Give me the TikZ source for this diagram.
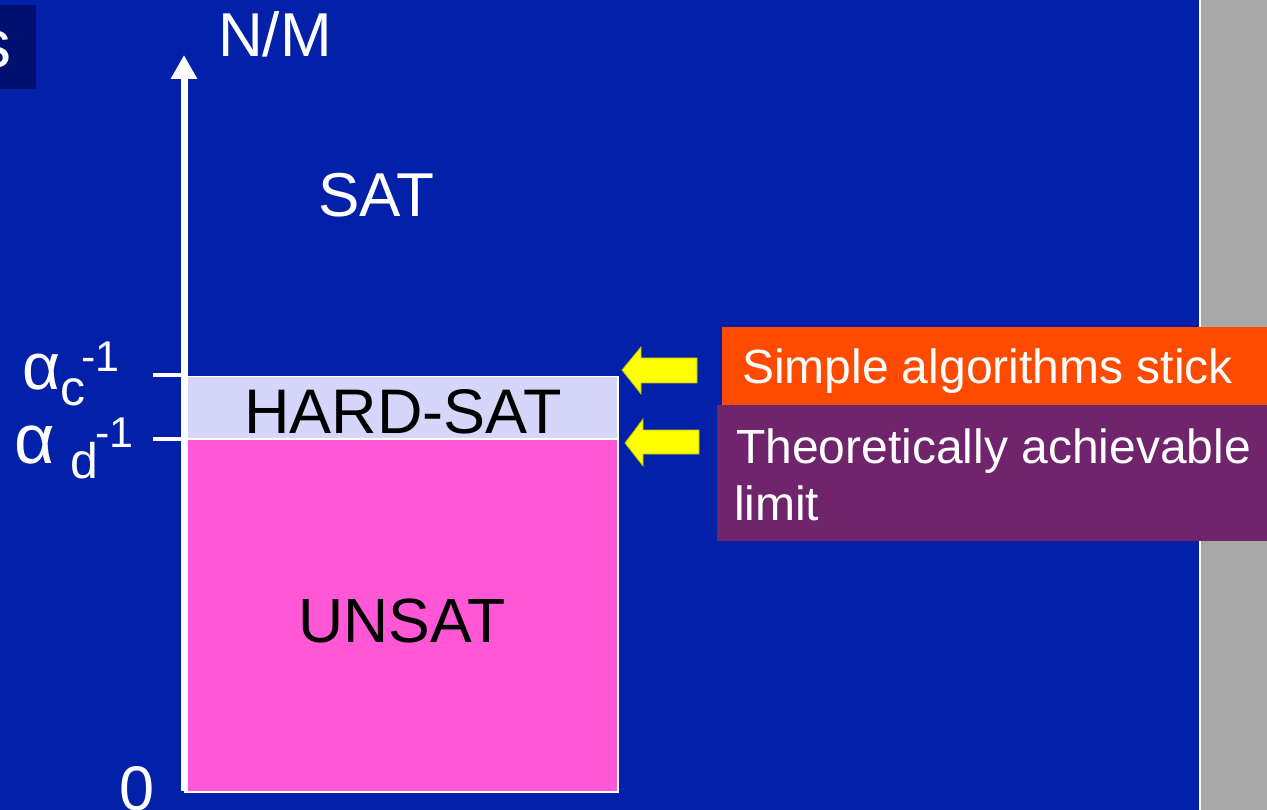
\documentclass[tikz,border=0pt]{standalone}
\usepackage{fontspec}
\setmainfont{Liberation Sans}
\usetikzlibrary{arrows.meta}
\definecolor{bgblue}{RGB}{3,32,168}
\definecolor{tabblue}{RGB}{0,16,112}
\definecolor{panelgray}{RGB}{168,168,168}
\definecolor{hardfill}{RGB}{214,214,250}
\definecolor{unsatfill}{RGB}{255,87,214}
\definecolor{stickfill}{RGB}{255,75,0}
\definecolor{limitfill}{RGB}{112,36,108}
\definecolor{arrowyellow}{RGB}{255,255,0}
\definecolor{arrowedge}{RGB}{190,190,0}
\newcommand{\px}[1]{\fontsize{#1}{#1}\selectfont}
\begin{document}
\begin{tikzpicture}[x=1pt,y=-1pt,
  txt/.style={inner sep=0pt, outer sep=0pt, text=white},
  region/.style={draw=white, line width=1.5pt, inner sep=0pt, anchor=north west},
  notebox/.style={inner sep=0pt, anchor=north west},
  tick/.style={draw=white, line width=4pt},
  axisline/.style={draw=white, line width=7pt, -{Triangle[width=25pt,length=24pt]}},
  pointer/.style={fill=arrowyellow, draw=arrowedge, line width=0.8pt, line join=miter}]
\useasboundingbox (0,0) rectangle (1267,810);
% background and side panel
\fill[bgblue] (0,0) rectangle (1267,810);
\fill[panelgray] (1201,0) rectangle (1267,810);
\draw[white, line width=2pt] (1200,0) -- (1200,810);
% title tab in the corner
\begin{scope}
  \clip (0,5) rectangle (36,89);
  \fill[tabblue] (0,5) rectangle (36,89);
  \node[txt, anchor=base east, font=\px{68}] (tab) at (12,68) {s};
\end{scope}
% phase regions
\node[region, fill=hardfill, minimum width=433pt, minimum height=63pt] (hard) at (184,376) {};
\node[region, fill=unsatfill, minimum width=433pt, minimum height=353pt] (unsat) at (184,438) {};
% vertical axis
\coordinate (origin) at (184,791);
\coordinate (top) at (184,55);
\draw[axisline] (origin) -- (top);
\node[txt, anchor=base west, font=\px{62}] (axislabel) at (218,57) {N/M};
% ticks
\coordinate (tc) at (184,375);
\coordinate (td) at (184,439);
\draw[tick] (tc) -- ++(-31,0);
\draw[tick] (td) -- ++(-31,0);
% tick labels
\node[txt, anchor=base west, font=\px{66}] (ac) at (23,390) {α};
\node[txt, anchor=base west, font=\px{50}] (acsub) at (60,406) {c};
\node[txt, anchor=base west, font=\px{43}] (acsup) at (81,371) {-1};
\node[txt, anchor=base west, font=\px{70}] (ad) at (15,463) {α};
\node[txt, anchor=base west, font=\px{50}] (adsub) at (70,478) {d};
\node[txt, anchor=base west, font=\px{43}] (adsup) at (95,447) {-1};
\node[txt, anchor=base west, font=\px{63}] (zero) at (119,810) {0};
% region labels
\node[txt, anchor=base, font=\px{62}] (sat) at (376,217) {SAT};
\node[txt, text=black, anchor=base, font=\px{63}] (hardlbl) at (403,433) {HARD-SAT};
\node[txt, text=black, anchor=base, font=\px{62.5}] (unsatlbl) at (402,642) {UNSAT};
% notes on the right
\node[notebox, fill=stickfill, minimum width=545pt, minimum height=78pt] (stick) at (722,327) {};
\node[notebox, fill=limitfill, minimum width=550pt, minimum height=136pt] (limit) at (717,405) {};
\node[txt, anchor=base west, font=\px{48}] (sticktxt) at (742,384) {Simple algorithms stick};
\node[txt, anchor=base west, font=\px{48}] (limittxt) at (736,463) {Theoretically achievable};
\node[txt, anchor=base west, font=\px{48}] (limittxtb) at (734,520) {limit};
% yellow pointers
\coordinate (pa) at (622,370);
\coordinate (pb) at (625,443);
\draw[pointer] (pa) -- ++(19,-23) -- ++(0,11) -- ++(56,0) -- ++(0,25) -- ++(-56,0) -- ++(0,11) -- cycle;
\draw[pointer] (pb) -- ++(18,-24) -- ++(0,11) -- ++(56,0) -- ++(0,24) -- ++(-56,0) -- ++(0,12) -- cycle;
\end{tikzpicture}
\end{document}
